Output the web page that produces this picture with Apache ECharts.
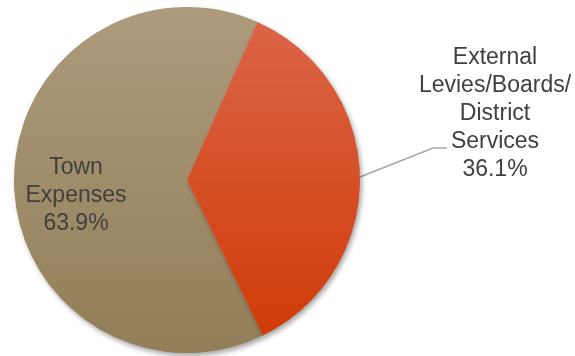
<!DOCTYPE html>
<html>
<head>
<meta charset="utf-8">
<script src="https://cdn.jsdelivr.net/npm/echarts@6/dist/echarts.min.js"></script>
<style>
    html, body {margin:0;padding:0;background:#ffffff;}
    #main {width:575px;height:356px;}
</style>
</head>
<body>
<div id="main"></div>
<script>
    // 数据
    var categories = ['Town\nExpenses', 'External\nLevies/Boards/\nDistrict\nServices'];
    var values = [63.9, 36.1];
    var colorsTop = ['#ad9b7c', '#dc664b'];
    var colorsBottom = ['#927e58', '#cf3903'];

    var myChart = echarts.init(document.getElementById('main'));

    var pieData = [];
    for (var i = 0; i < categories.length; i++) {
        pieData.push({
            name: categories[i],
            value: values[i],
            itemStyle: {
                color: new echarts.graphic.LinearGradient(0, 7, 0, 354, [
                    {offset: 0, color: colorsTop[i]},
                    {offset: 1, color: colorsBottom[i]}
                ], true)
            },
            label: i === 0 ? {position: 'inside'} : {position: 'outside'},
            labelLine: {show: i !== 0}
        });
    }

    var option = {
        animation: false,
        series: [{
            type: 'pie',
            center: [187, 180],
            radius: 173,
            startAngle: -64,
            clockwise: true,
            data: pieData,
            itemStyle: {
                shadowBlur: 5,
                shadowOffsetX: 2,
                shadowOffsetY: 3,
                shadowColor: 'rgba(0,0,0,0.35)'
            },
            label: {
                formatter: function (p) { return p.name + '\n' + p.value.toFixed(1) + '%'; },
                fontFamily: 'Liberation Sans, Arial, sans-serif',
                fontSize: 23,
                lineHeight: 28,
                color: '#404040',
                align: 'center'
            },
            labelLine: {
                lineStyle: {color: '#a6a6a6', width: 1.5}
            },
            labelLayout: function (params) {
                if (params.dataIndex === 0) {
                    return {x: 76, y: 196, align: 'center', verticalAlign: 'middle'};
                }
                var pts = params.labelLinePoints;
                var start = pts ? pts[0] : [360, 178];
                return {
                    x: 495, y: 114, align: 'center', verticalAlign: 'middle',
                    labelLinePoints: [start, [433, 148], [447, 148]]
                };
            }
        }]
    };
    myChart.setOption(option, true);
</script>
</body>
</html>
